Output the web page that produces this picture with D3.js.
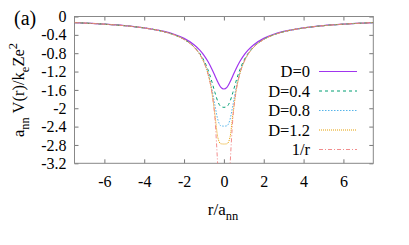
<!DOCTYPE html>
<html>
<head>
<meta charset="utf-8">
<script src="https://cdn.jsdelivr.net/npm/d3@7"></script>
<style>
  body { margin: 0; background: #fff; }
</style>
</head>
<body>
<div id="chart"></div>
<script>
// r / a_nn sample positions
const rValues = [-7.5, -6, -5, -4, -3, -2.5, -2, -1.5, -1.2, -1, -0.8, -0.6, -0.45, -0.3, -0.15, 0,
  0.15, 0.3, 0.45, 0.6, 0.8, 1, 1.2, 1.5, 2, 2.5, 3, 4, 5, 6, 7.5]

// values (a_nn V(r) / k_e Z e^2)
const d00 = [-0.133, -0.166, -0.198, -0.247, -0.326, -0.388, -0.477, -0.615, -0.738, -0.846, -0.982, -1.149, -1.291, -1.433, -1.544, -1.58,
  -1.544, -1.433, -1.291, -1.149, -0.982, -0.846, -0.738, -0.615, -0.477, -0.388, -0.326, -0.247, -0.198, -0.166, -0.133]
const d04 = [-0.133, -0.167, -0.2, -0.25, -0.333, -0.399, -0.497, -0.658, -0.813, -0.96, -1.16, -1.426, -1.657, -1.858, -1.963, -1.98,
  -1.963, -1.858, -1.657, -1.426, -1.16, -0.96, -0.813, -0.658, -0.497, -0.399, -0.333, -0.25, -0.2, -0.167, -0.133]
const d08 = [-0.133, -0.167, -0.2, -0.25, -0.333, -0.4, -0.5, -0.666, -0.83, -0.992, -1.228, -1.581, -1.934, -2.256, -2.383, -2.39,
  -2.383, -2.256, -1.934, -1.581, -1.228, -0.992, -0.83, -0.666, -0.5, -0.4, -0.333, -0.25, -0.2, -0.167, -0.133]
const d12 = [-0.133, -0.167, -0.2, -0.25, -0.333, -0.4, -0.5, -0.667, -0.833, -1.0, -1.248, -1.654, -2.138, -2.647, -2.775, -2.78,
  -2.775, -2.647, -2.138, -1.654, -1.248, -1.0, -0.833, -0.667, -0.5, -0.4, -0.333, -0.25, -0.2, -0.167, -0.133]
const coul = [-0.133, -0.167, -0.2, -0.25, -0.333, -0.4, -0.5, -0.667, -0.833, -1.0, -1.25, -1.667, -2.222, -3.333, null, null,
  null, -3.333, -2.222, -1.667, -1.25, -1.0, -0.833, -0.667, -0.5, -0.4, -0.333, -0.25, -0.2, -0.167, -0.133]

const seriesNames = ['D=0', 'D=0.4', 'D=0.8', 'D=1.2', '1/r']
const seriesValues = [d00, d04, d08, d12, coul]

const xTicks = [-6, -4, -2, 0, 2, 4, 6]
const xTickLabels = ['-6', '-4', '-2', '0', '2', '4', '6']
const yTicks = [0, -0.4, -0.8, -1.2, -1.6, -2, -2.4, -2.8, -3.2]
const yTickLabels = ['0', '-0.4', '-0.8', '-1.2', '-1.6', '-2', '-2.4', '-2.8', '-3.2']

const styles = [
  { color: '#a035ee', dash: null, width: 1.2 },
  { color: '#009e73', dash: '3,3', width: 1 },
  { color: '#56b4e9', dash: '1.5,1.5', width: 1 },
  { color: '#e69f00', dash: '1,1', width: 1 },
  { color: '#f08080', dash: '4,2,1,2', width: 0.9 }
]

const width = 409
const height = 245
const plot = { left: 74.5, right: 373.3, top: 16.5, bottom: 163.3 }

const svg = d3
  .select('#chart')
  .append('svg')
  .attr('width', width)
  .attr('height', height)

const x = d3.scaleLinear().domain([-7.5, 7.5]).range([plot.left, plot.right])
const y = d3.scaleLinear().domain([-3.2, 0]).range([plot.bottom, plot.top])

svg.append('clipPath').attr('id', 'clip')
  .append('rect')
  .attr('x', plot.left)
  .attr('y', plot.top)
  .attr('width', plot.right - plot.left)
  .attr('height', plot.bottom - plot.top)

// axes with inward ticks on all four sides
const tickLen = 4
svg.append('g')
  .attr('transform', `translate(0,${plot.bottom})`)
  .call(d3.axisBottom(x).tickValues(xTicks).tickSize(-tickLen).tickPadding(12).tickFormat((d, i) => xTickLabels[i]))
svg.append('g')
  .attr('transform', `translate(0,${plot.top})`)
  .call(d3.axisTop(x).tickValues(xTicks).tickSize(-tickLen).tickFormat(''))
svg.append('g')
  .attr('transform', `translate(${plot.left},0)`)
  .call(d3.axisLeft(y).tickValues(yTicks).tickSize(-tickLen).tickPadding(8).tickFormat((d, i) => yTickLabels[i]))
svg.append('g')
  .attr('transform', `translate(${plot.right},0)`)
  .call(d3.axisRight(y).tickValues(yTicks).tickSize(-tickLen).tickFormat(''))

svg.selectAll('.domain').remove()
svg.selectAll('.tick line').attr('stroke', '#777')
svg.selectAll('.tick text')
  .style('font-size', '16px')
  .attr('fill', '#000')

svg.append('rect')
  .attr('x', plot.left)
  .attr('y', plot.top)
  .attr('width', plot.right - plot.left)
  .attr('height', plot.bottom - plot.top)
  .attr('fill', 'none')
  .attr('stroke', '#888')
  .attr('stroke-width', 1)

const line = d3.line()
  .defined(d => d[1] !== null)
  .x(d => x(d[0]))
  .y(d => y(d[1]))
  .curve(d3.curveMonotoneX)

const curves = svg.append('g').attr('clip-path', 'url(#clip)')

seriesValues.forEach((vals, i) => {
  curves.append('path')
    .datum(rValues.map((r, j) => [r, vals[j]]))
    .attr('d', line)
    .attr('fill', 'none')
    .attr('stroke', styles[i].color)
    .attr('stroke-width', styles[i].width)
    .attr('stroke-dasharray', styles[i].dash)
})

// legend
const legend = svg.append('g')
seriesNames.forEach((name, i) => {
  const ly = 71.5 + i * 19.5
  legend.append('text')
    .attr('x', 310)
    .attr('y', ly)
    .attr('dy', '0.34em')
    .attr('text-anchor', 'end')
    .style('font-size', '16.5px')
    .text(name)
  legend.append('line')
    .attr('x1', 319)
    .attr('x2', 357)
    .attr('y1', ly)
    .attr('y2', ly)
    .attr('stroke', styles[i].color)
    .attr('stroke-width', styles[i].width)
    .attr('stroke-dasharray', styles[i].dash)
})

// axis titles
const xt = svg.append('text')
  .attr('x', 223)
  .attr('y', 215)
  .attr('text-anchor', 'middle')
  .style('font-size', '17px')
xt.append('tspan').text('r/a')
xt.append('tspan').attr('dy', 5).style('font-size', '12.5px').text('nn')

const yt = svg.append('text')
  .attr('transform', 'translate(24,90) rotate(-90)')
  .attr('text-anchor', 'middle')
  .style('font-size', '16.5px')
yt.append('tspan').text('a')
yt.append('tspan').attr('dy', 5).style('font-size', '12.5px').text('nn')
yt.append('tspan').attr('dy', -5).text(' V(r)/k')
yt.append('tspan').attr('dy', 5).style('font-size', '12.5px').text('e')
yt.append('tspan').attr('dy', -5).text('Ze')
yt.append('tspan').attr('dy', -7).style('font-size', '12.5px').text('2')

svg.append('text')
  .attr('x', 14)
  .attr('y', 25)
  .style('font-size', '20px')
  .text('(a)')

// serif everywhere, like the gnuplot original
svg.selectAll('text')
  .style('font-family', '"Liberation Serif", serif')
  .attr('fill', '#000')
</script>
</body>
</html>
